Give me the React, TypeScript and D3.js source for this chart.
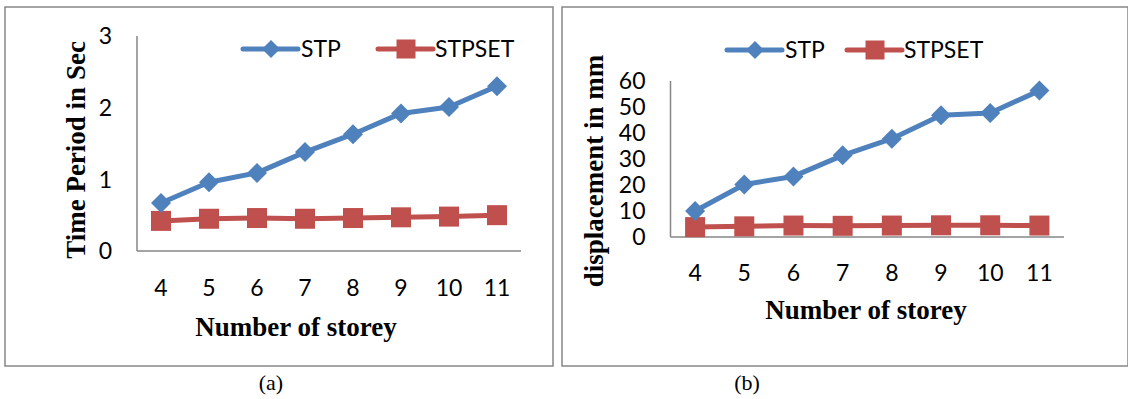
import React from "react";
import * as d3 from "d3";

const storeys = ["4", "5", "6", "7", "8", "9", "10", "11"];
const periodSTP = [0.67, 0.96, 1.09, 1.38, 1.63, 1.92, 2.01, 2.3];
const periodSTPSET = [0.42, 0.45, 0.46, 0.45, 0.46, 0.47, 0.48, 0.5];
const dispSTP = [10, 20.2, 23.3, 31.4, 37.8, 46.8, 47.7, 56.3];
const dispSTPSET = [3.8, 4.1, 4.4, 4.3, 4.4, 4.5, 4.5, 4.4];
const periodTicks = [0, 1, 2, 3];
const dispTicks = [0, 10, 20, 30, 40, 50, 60];
const seriesNames = ["STP", "STPSET"];

const BLUE = "#4F81BD";
const RED = "#C0504D";
const AXIS = "#868686";
const tickFont = "Lato, 'Open Sans', sans-serif";
const serif = "'Liberation Serif', 'Times New Roman', serif";

function Diamond({ cx, cy, r }) {
  return (
    <path
      d={`M${cx},${cy - r}L${cx + r},${cy}L${cx},${cy + r}L${cx - r},${cy}Z`}
      fill={BLUE}
    />
  );
}

function Square({ cx, cy, s }) {
  return <rect x={cx - s / 2} y={cy - s / 2} width={s} height={s} fill={RED} />;
}

function Panel(props) {
  const { box, plot, yMax, ticks, stp, stpset, yTitle, yTitleX, xTickY, xTitle, legend, caption } = props;

  const x = d3.scaleBand().domain(storeys).range([plot.left, plot.right]);
  const y = d3.scaleLinear().domain([0, yMax]).range([plot.bottom, plot.top]);
  const cx = (d) => x(d) + x.bandwidth() / 2;

  const line = d3
    .line()
    .x((d, i) => cx(storeys[i]))
    .y((d) => y(d));

  return (
    <g>
      <rect
        x={box.x}
        y={box.y}
        width={box.w}
        height={box.h}
        fill="none"
        stroke={AXIS}
        strokeWidth={1.5}
      />
      {/* axes */}
      <line x1={plot.left} x2={plot.left} y1={y(yMax)} y2={plot.bottom} stroke={AXIS} strokeWidth={1.5} />
      <line x1={plot.left} x2={plot.right} y1={plot.bottom} y2={plot.bottom} stroke={AXIS} strokeWidth={1.5} />
      {ticks.map((t) => (
        <text
          key={t}
          x={plot.left - 25}
          y={y(t)}
          dy="0.36em"
          textAnchor="end"
          fontFamily={tickFont}
          fontSize={23}
        >
          {t}
        </text>
      ))}
      {storeys.map((s) => (
        <text key={s} x={cx(s)} y={xTickY} textAnchor="middle" fontFamily={tickFont} fontSize={23}>
          {s}
        </text>
      ))}
      <text
        x={xTitle.x}
        y={xTitle.y}
        textAnchor="middle"
        fontFamily={serif}
        fontWeight="bold"
        fontSize={27}
      >
        Number of storey
      </text>
      <text
        transform={`translate(${yTitleX},${yTitle.cy}) rotate(-90)`}
        textAnchor="middle"
        fontFamily={serif}
        fontWeight="bold"
        fontSize={27}
      >
        {yTitle.text}
      </text>

      {/* series */}
      <path d={line(stpset)} fill="none" stroke={RED} strokeWidth={5} strokeLinejoin="round" />
      {stpset.map((v, i) => (
        <Square key={i} cx={cx(storeys[i])} cy={y(v)} s={20} />
      ))}
      <path d={line(stp)} fill="none" stroke={BLUE} strokeWidth={5} strokeLinejoin="round" />
      {stp.map((v, i) => (
        <Diamond key={i} cx={cx(storeys[i])} cy={y(v)} r={10} />
      ))}

      {/* legend */}
      <line x1={legend.x1} x2={legend.x1 + 55} y1={legend.y} y2={legend.y} stroke={BLUE} strokeWidth={5} strokeLinecap="round" />
      <Diamond cx={legend.x1 + 28} cy={legend.y} r={9} />
      <text x={legend.x1 + 58} y={legend.y} dy="0.36em" fontFamily={tickFont} fontSize={23}>
        {seriesNames[0]}
      </text>
      <line x1={legend.x2} x2={legend.x2 + 55} y1={legend.y} y2={legend.y} stroke={RED} strokeWidth={5} strokeLinecap="round" />
      <Square cx={legend.x2 + 28} cy={legend.y} s={19} />
      <text x={legend.x2 + 57} y={legend.y} dy="0.36em" fontFamily={tickFont} fontSize={23}>
        {seriesNames[1]}
      </text>

      <text x={caption.x} y={390} textAnchor="middle" fontFamily={serif} fontSize={22}>
        {caption.text}
      </text>
    </g>
  );
}

export default function App() {
  return (
    <svg
      width={1128}
      height={399}
      style={{ position: "absolute", left: 0, top: 0, background: "#fff" }}
    >
      <Panel
        box={{ x: 5, y: 7, w: 548, h: 359 }}
        plot={{ left: 137, right: 521, top: 36, bottom: 251 }}
        yMax={3}
        ticks={periodTicks}
        stp={periodSTP}
        stpset={periodSTPSET}
        yTitle={{ text: "Time Period in Sec", cy: 150 }}
        yTitleX={85}
        xTickY={296}
        xTitle={{ x: 296, y: 336 }}
        legend={{ x1: 243, x2: 378, y: 49 }}
        caption={{ x: 271, text: "(a)" }}
      />
      <Panel
        box={{ x: 562, y: 7, w: 566, h: 359 }}
        plot={{ left: 670.5, right: 1064, top: 81, bottom: 237 }}
        yMax={60}
        ticks={dispTicks}
        stp={dispSTP}
        stpset={dispSTPSET}
        yTitle={{ text: "displacement in mm", cy: 171 }}
        yTitleX={603}
        xTickY={281}
        xTitle={{ x: 866, y: 319 }}
        legend={{ x1: 727, x2: 847, y: 50 }}
        caption={{ x: 747, text: "(b)" }}
      />
    </svg>
  );
}
